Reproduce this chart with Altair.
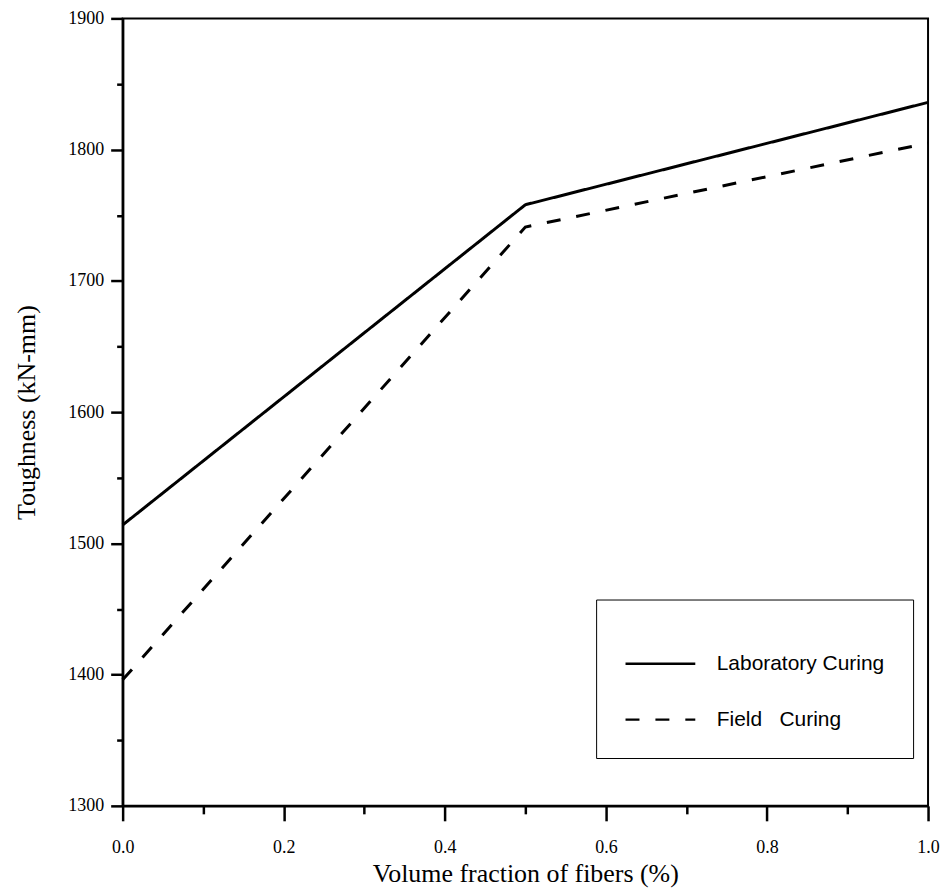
import altair as alt
import pandas as pd

# Data
fractions = [0.0, 0.5, 1.0]
lab_curing = [1514, 1758, 1836]
field_curing = [1396, 1741, 1805]
series_names = ["Laboratory Curing", "Field\u00a0\u00a0\u00a0Curing"]
y_ticks = list(range(1300, 1901, 50))
x_ticks = [round(i * 0.1, 1) for i in range(11)]

df = pd.DataFrame({
    "fraction": fractions * 2,
    "toughness": lab_curing + field_curing,
    "series": [series_names[0]] * len(fractions) + [series_names[1]] * len(fractions),
})

x_axis = alt.Axis(
    values=x_ticks,
    format=".1f",
    labelExpr="round(datum.value*10) % 2 == 0 ? datum.label : ''",
    tickSize={"condition": {"test": "round(datum.value*10) % 2 == 1", "value": 8}, "value": 15},
    labelFlush=False,
    labelOverlap=False,
    labelPadding=18,
    titlePadding=4,
    grid=False,
)

y_axis = alt.Axis(
    values=y_ticks,
    format="d",
    labelExpr="datum.value % 100 == 0 ? datum.label : ''",
    tickSize={"condition": {"test": "datum.value % 100 != 0", "value": 6}, "value": 12},
    labelOverlap=False,
    labelPadding=7,
    titlePadding=28,
    grid=False,
)

legend = alt.Legend(
    orient="none",
    legendX=475,
    legendY=583,
    title=None,
    strokeColor="black",
    padding=28,
    symbolType="stroke",
    symbolSize=4900,
    symbolStrokeWidth=2.4,
    symbolStrokeColor="black",
    labelFont="Liberation Sans",
    labelFontSize=21,
    labelColor="black",
    labelOffset=20,
    labelLimit=400,
    rowPadding=9,
)

chart = (
    alt.Chart(df)
    .mark_line(color="black", strokeWidth=3)
    .encode(
        x=alt.X("fraction:Q", scale=alt.Scale(domain=[0, 1], nice=False, zero=False),
                axis=x_axis, title="Volume fraction of fibers (%)"),
        y=alt.Y("toughness:Q", scale=alt.Scale(domain=[1300, 1900], nice=False, zero=False),
                axis=y_axis, title="Toughness (kN-mm)"),
        strokeDash=alt.StrokeDash(
            "series:N",
            scale=alt.Scale(domain=series_names, range=[[1, 0], [14, 16]]),
            legend=legend,
            sort=series_names,
        ),
    )
    .properties(
        width=808,
        height=790,
        background="white",
        autosize=alt.AutoSizeParams(type="none"),
        padding={"left": 115, "top": 9, "right": 14, "bottom": 86},
    )
    .configure_view(stroke="black", strokeWidth=2)
    .configure_axis(
        domainColor="black",
        domainWidth=2.5,
        tickColor="black",
        tickWidth=2.5,
        labelFont="Liberation Sans Narrow",
        labelFontSize=18,
        labelColor="black",
        titleFont="Liberation Serif",
        titleFontSize=26,
        titleFontWeight="normal",
        titleColor="black",
    )
)

chart.save("out.html", embed_options={"renderer": "svg", "actions": False})
